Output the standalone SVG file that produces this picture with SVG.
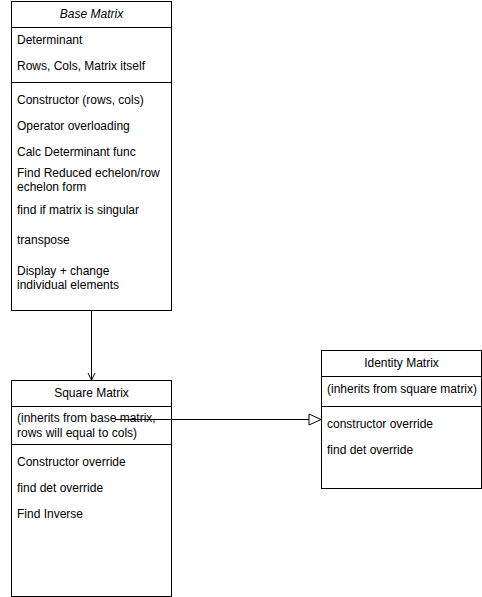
<svg xmlns="http://www.w3.org/2000/svg" width="482" height="597" viewBox="0 0 482 597">
<style>
.box{fill:#fff;stroke:#000;stroke-width:1}
.ln{stroke:#000;stroke-width:1;fill:none}
text{font-family:"Liberation Sans",Arial,sans-serif;font-size:12px;fill:#000}
.c{text-anchor:middle}
</style>
<rect width="482" height="597" fill="#fff"/>
<g id="base-matrix">
<rect class="box" x="11.5" y="1.5" width="160" height="309"/>
<line class="ln" x1="11.5" y1="27.5" x2="171.5" y2="27.5"/>
<line class="ln" x1="11.5" y1="82.5" x2="171.5" y2="82.5"/>
<text class="c" x="91.5" y="18" font-style="italic">Base Matrix</text>
<text x="17" y="44">Determinant</text>
<text x="17" y="70">Rows, Cols, Matrix itself</text>
<text x="17" y="104">Constructor (rows, cols)</text>
<text x="17" y="130">Operator overloading</text>
<text x="17" y="156">Calc Determinant func</text>
<text x="17" y="177">Find Reduced echelon/row</text>
<text x="17" y="191">echelon form</text>
<text x="17" y="214">find if matrix is singular</text>
<text x="17" y="244">transpose</text>
<text x="17" y="275">Display + change</text>
<text x="17" y="289">individual elements</text>
</g>
<g id="square-matrix">
<rect class="box" x="11.5" y="380.5" width="160" height="216"/>
<line class="ln" x1="11.5" y1="406.5" x2="171.5" y2="406.5"/>
<line class="ln" x1="11.5" y1="444.5" x2="171.5" y2="444.5"/>
<text class="c" x="91.5" y="397">Square Matrix</text>
<text x="17" y="422">(inherits from base matrix,</text>
<text x="17" y="437">rows will equal to cols)</text>
<text x="17" y="466">Constructor override</text>
<text x="17" y="492">find det override</text>
<text x="17" y="518">Find Inverse</text>
</g>
<g id="identity-matrix">
<rect class="box" x="321.5" y="350.5" width="160" height="138"/>
<line class="ln" x1="321.5" y1="376.5" x2="481.5" y2="376.5"/>
<line class="ln" x1="321.5" y1="406.5" x2="481.5" y2="406.5"/>
<text class="c" x="401.5" y="367">Identity Matrix</text>
<text x="327" y="393">(inherits from square matrix)</text>
<text x="327" y="428">constructor override</text>
<text x="327" y="454">find det override</text>
</g>
<g id="connectors">
<line class="ln" x1="91.5" y1="310.5" x2="91.5" y2="380"/>
<polyline class="ln" points="88,373 91.5,380 95,373"/>
<line class="ln" x1="115" y1="419.5" x2="309" y2="419.5"/>
<polygon points="309,414 321,419.5 309,425" fill="#fff" stroke="#000" stroke-width="1"/>
</g>
</svg>
